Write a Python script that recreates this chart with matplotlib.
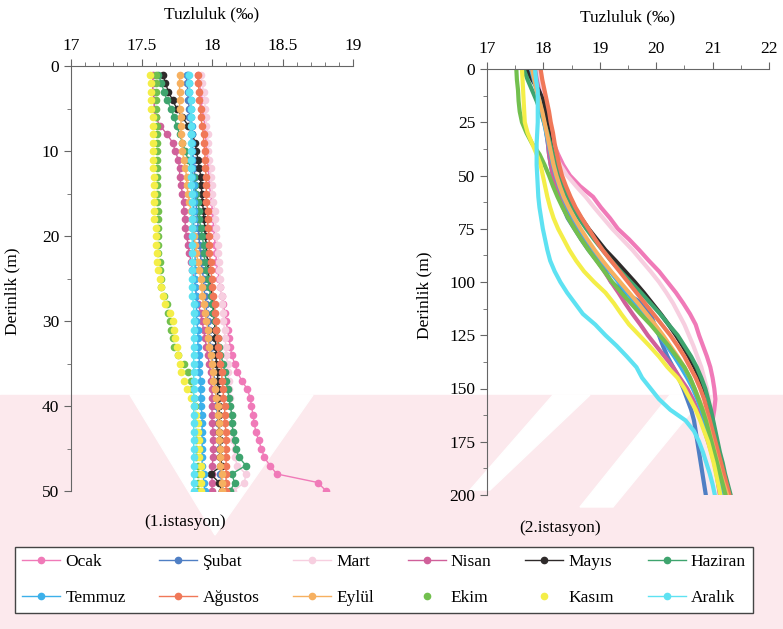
import matplotlib
matplotlib.use('Agg')
import matplotlib.pyplot as plt
from matplotlib.patches import Polygon, Rectangle
from matplotlib.ticker import MultipleLocator, FormatStrFormatter

plt.rcParams['font.family'] = ['Liberation Serif', 'DejaVu Serif']

aylar = ['Ocak', 'Şubat', 'Mart', 'Nisan', 'Mayıs', 'Haziran',
         'Temmuz', 'Ağustos', 'Eylül', 'Ekim', 'Kasım', 'Aralık']
renkler = ['#f07ab8', '#4f7fc4', '#f7cfe0', '#d0609a', '#2e2a2a', '#3ea46e',
           '#3cb0ea', '#f07858', '#f6b060', '#72c04e', '#f4ee48', '#5ee2f2']
# Ekim ve Kasım sadece nokta
cizgili = [True, True, True, True, True, True, True, True, True, False, False, True]

# 1. istasyon, 1-50 m
derinlik1 = list(range(1, 51))
ist1 = {
    'Ocak': [17.90, 17.91, 17.92, 17.92, 17.93, 17.94, 17.95, 17.95, 17.96, 17.96,
             17.97, 17.97, 17.98, 17.98, 17.99, 18.00, 18.00, 18.01, 18.01, 18.02,
             18.02, 18.03, 18.03, 18.04, 18.05, 18.06, 18.07, 18.08, 18.09, 18.10,
             18.11, 18.12, 18.13, 18.14, 18.16, 18.18, 18.21, 18.25, 18.27, 18.28,
             18.29, 18.30, 18.31, 18.33, 18.35, 18.37, 18.41, 18.46, 18.75, 18.81],
    'Şubat': [17.82, 17.82, 17.83, 17.83, 17.84, 17.84, 17.85, 17.85, 17.86, 17.86,
              17.87, 17.87, 17.88, 17.88, 17.88, 17.89, 17.89, 17.90, 17.90, 17.91,
              17.91, 17.92, 17.92, 17.93, 17.94, 17.94, 17.95, 17.96, 17.96, 17.97,
              17.98, 17.98, 17.99, 18.00, 18.00, 18.01, 18.02, 18.02, 18.03, 18.03,
              18.04, 18.04, 18.05, 18.05, 18.05, 18.06, 18.06, 18.06, 18.07, 18.07],
    'Mart': [17.92, 17.93, 17.94, 17.95, 17.95, 17.96, 17.96, 17.97, 17.97, 17.97,
             17.98, 17.99, 17.99, 18.00, 18.00, 18.01, 18.02, 18.02, 18.03, 18.03,
             18.04, 18.04, 18.05, 18.05, 18.06, 18.06, 18.07, 18.07, 18.08, 18.08,
             18.09, 18.09, 18.10, 18.10, 18.11, 18.11, 18.12, 18.12, 18.13, 18.13,
             18.14, 18.14, 18.15, 18.15, 18.16, 18.16, 18.18, 18.24, 18.23, 18.15],
    'Nisan': [17.58, 17.58, 17.58, 17.59, 17.59, 17.60, 17.63, 17.68, 17.72, 17.74,
              17.76, 17.77, 17.77, 17.78, 17.79, 17.80, 17.80, 17.81, 17.81, 17.82,
              17.83, 17.84, 17.85, 17.86, 17.87, 17.88, 17.89, 17.90, 17.92, 17.93,
              17.94, 17.95, 17.96, 17.97, 17.98, 17.99, 17.99, 18.00, 18.00, 18.00,
              18.00, 18.00, 18.01, 18.01, 18.01, 18.01, 18.00, 18.00, 18.00, 18.00],
    'Mayıs': [17.65, 17.67, 17.69, 17.72, 17.75, 17.79, 17.83, 17.86, 17.88, 17.89,
              17.90, 17.91, 17.92, 17.92, 17.93, 17.93, 17.94, 17.94, 17.95, 17.95,
              17.96, 17.96, 17.97, 17.97, 17.98, 17.99, 18.00, 18.01, 18.01, 18.02,
              18.02, 18.02, 18.03, 18.03, 18.03, 18.04, 18.04, 18.04, 18.04, 18.05,
              18.05, 18.05, 18.05, 18.06, 18.06, 18.06, 18.07, 17.99, 18.05, 18.07],
    'Haziran': [17.62, 17.64, 17.66, 17.68, 17.71, 17.73, 17.75, 17.77, 17.79, 17.81,
                17.83, 17.85, 17.87, 17.88, 17.89, 17.90, 17.91, 17.91, 17.92, 17.93,
                17.94, 17.94, 17.95, 17.96, 17.97, 17.98, 17.99, 18.00, 18.01, 18.02,
                18.03, 18.04, 18.05, 18.06, 18.08, 18.09, 18.10, 18.11, 18.12, 18.13,
                18.14, 18.14, 18.15, 18.16, 18.17, 18.19, 18.24, 18.14, 18.16, 18.13],
    'Temmuz': [17.83, 17.84, 17.84, 17.85, 17.85, 17.85, 17.86, 17.86, 17.86, 17.86,
               17.86, 17.86, 17.86, 17.87, 17.87, 17.87, 17.87, 17.87, 17.87, 17.87,
               17.87, 17.88, 17.88, 17.88, 17.88, 17.88, 17.89, 17.89, 17.89, 17.89,
               17.90, 17.90, 17.90, 17.91, 17.91, 17.91, 17.92, 17.92, 17.92, 17.92,
               17.93, 17.93, 17.93, 17.93, 17.93, 17.93, 17.93, 17.94, 17.94, 17.95],
    'Ağustos': [17.90, 17.90, 17.91, 17.91, 17.92, 17.92, 17.93, 17.94, 17.94, 17.95,
                17.95, 17.95, 17.96, 17.96, 17.96, 17.96, 17.97, 17.97, 17.97, 17.98,
                17.98, 17.98, 17.99, 17.99, 18.00, 18.00, 18.01, 18.02, 18.02, 18.03,
                18.03, 18.04, 18.04, 18.05, 18.06, 18.07, 18.07, 18.08, 18.08, 18.09,
                18.09, 18.09, 18.10, 18.10, 18.10, 18.10, 18.10, 18.10, 18.10, 18.10],
    'Eylül': [17.77, 17.77, 17.77, 17.77, 17.77, 17.78, 17.78, 17.78, 17.79, 17.79,
              17.80, 17.81, 17.82, 17.82, 17.83, 17.84, 17.85, 17.86, 17.86, 17.87,
              17.88, 17.89, 17.90, 17.91, 17.92, 17.93, 17.93, 17.94, 17.95, 17.96,
              17.97, 17.97, 17.98, 17.99, 18.00, 18.01, 18.01, 18.02, 18.03, 18.04,
              18.04, 18.05, 18.05, 18.05, 18.06, 18.06, 18.06, 18.07, 18.07, 18.07],
    'Ekim': [17.60, 17.60, 17.60, 17.60, 17.60, 17.60, 17.61, 17.61, 17.61, 17.61,
             17.61, 17.61, 17.61, 17.61, 17.61, 17.61, 17.62, 17.62, 17.62, 17.62,
             17.62, 17.62, 17.63, 17.63, 17.64, 17.64, 17.66, 17.68, 17.69, 17.70,
             17.71, 17.72, 17.73, 17.76, 17.80, 17.83, 17.85, 17.86, 17.87, 17.88,
             17.88, 17.88, 17.89, 17.89, 17.89, 17.89, 17.90, 17.90, 17.90, 17.90],
    'Kasım': [17.56, 17.57, 17.57, 17.57, 17.57, 17.58, 17.58, 17.58, 17.58, 17.58,
              17.58, 17.58, 17.59, 17.59, 17.59, 17.59, 17.59, 17.59, 17.60, 17.60,
              17.60, 17.61, 17.61, 17.62, 17.63, 17.64, 17.65, 17.67, 17.70, 17.72,
              17.73, 17.74, 17.75, 17.76, 17.77, 17.78, 17.80, 17.82, 17.85, 17.87,
              17.89, 17.90, 17.90, 17.91, 17.91, 17.91, 17.92, 17.92, 17.92, 17.92],
    'Aralık': [17.84, 17.84, 17.84, 17.85, 17.85, 17.85, 17.85, 17.85, 17.85, 17.85,
               17.85, 17.85, 17.85, 17.85, 17.86, 17.86, 17.86, 17.86, 17.86, 17.86,
               17.86, 17.86, 17.86, 17.86, 17.86, 17.86, 17.86, 17.87, 17.87, 17.87,
               17.87, 17.87, 17.87, 17.87, 17.87, 17.87, 17.87, 17.87, 17.87, 17.87,
               17.87, 17.87, 17.87, 17.87, 17.87, 17.87, 17.87, 17.87, 17.87, 17.87],
}

# 2. istasyon, 0-200 m (5 m aralık)
derinlik2 = list(range(0, 201, 5))
ist2 = {
    'Ocak': [17.92, 17.95, 17.97, 18.00, 18.03, 18.06, 18.12, 18.18, 18.26, 18.35,
             18.47, 18.65, 18.88, 19.02, 19.18, 19.32, 19.52, 19.70, 19.87, 20.05,
             20.20, 20.35, 20.48, 20.60, 20.70, 20.76, 20.83, 20.90, 20.96, 21.00,
             21.03, 21.05, 21.03, 21.00, 21.02, 21.05, 21.08, 21.12, 21.15, 21.18, 21.22],
    'Şubat': [17.85, 17.88, 17.92, 17.96, 18.00, 18.03, 18.05, 18.08, 18.10, 18.13,
              18.17, 18.22, 18.28, 18.35, 18.43, 18.55, 18.67, 18.80, 18.95, 19.10,
              19.20, 19.45, 19.75, 19.90, 19.97, 20.05, 20.12, 20.20, 20.30, 20.40,
              20.48, 20.55, 20.62, 20.67, 20.70, 20.73, 20.76, 20.79, 20.82, 20.85, 20.88],
    'Mart': [17.90, 17.93, 17.95, 17.98, 18.00, 18.04, 18.08, 18.14, 18.20, 18.30,
             18.42, 18.58, 18.75, 18.90, 19.06, 19.22, 19.40, 19.58, 19.74, 19.90,
             20.05, 20.18, 20.30, 20.40, 20.50, 20.58, 20.66, 20.73, 20.80, 20.85,
             20.90, 20.93, 20.96, 20.99, 21.02, 21.05, 21.08, 21.10, 21.13, 21.16, 21.20],
    'Nisan': [17.85, 17.88, 17.92, 17.96, 18.00, 18.03, 18.06, 18.08, 18.10, 18.13,
              18.17, 18.22, 18.30, 18.38, 18.48, 18.58, 18.70, 18.82, 18.95, 19.08,
              19.20, 19.33, 19.45, 19.58, 19.72, 19.85, 20.00, 20.15, 20.30, 20.42,
              20.55, 20.65, 20.73, 20.80, 20.86, 20.92, 20.98, 21.03, 21.07, 21.10, 21.13],
    'Mayıs': [17.70, 17.80, 17.92, 18.00, 18.04, 18.07, 18.10, 18.13, 18.17, 18.22,
              18.28, 18.36, 18.45, 18.55, 18.67, 18.80, 18.95, 19.10, 19.28, 19.45,
              19.62, 19.78, 19.93, 20.08, 20.22, 20.35, 20.47, 20.58, 20.68, 20.77,
              20.85, 20.90, 20.95, 21.00, 21.03, 21.06, 21.10, 21.14, 21.18, 21.22, 21.25],
    'Haziran': [17.65, 17.72, 17.80, 17.88, 17.95, 18.01, 18.07, 18.12, 18.17, 18.22,
                18.28, 18.35, 18.43, 18.52, 18.63, 18.76, 18.90, 19.05, 19.20, 19.37,
                19.55, 19.73, 19.90, 20.07, 20.22, 20.38, 20.50, 20.62, 20.72, 20.80,
                20.87, 20.92, 20.97, 21.01, 21.05, 21.09, 21.13, 21.18, 21.22, 21.27, 21.32],
    'Temmuz': [17.78, 17.83, 17.88, 17.93, 17.97, 18.01, 18.05, 18.09, 18.13, 18.17,
               18.22, 18.28, 18.35, 18.43, 18.53, 18.64, 18.76, 18.89, 19.03, 19.18,
               19.33, 19.48, 19.63, 19.78, 19.92, 20.06, 20.19, 20.32, 20.44, 20.55,
               20.65, 20.73, 20.80, 20.86, 20.91, 20.96, 21.00, 21.04, 21.08, 21.12, 21.16],
    'Ağustos': [17.95, 17.98, 18.02, 18.06, 18.10, 18.13, 18.17, 18.20, 18.24, 18.28,
                18.33, 18.40, 18.48, 18.57, 18.68, 18.80, 18.92, 19.05, 19.20, 19.35,
                19.50, 19.65, 19.80, 19.95, 20.10, 20.25, 20.38, 20.50, 20.60, 20.70,
                20.78, 20.85, 20.90, 20.95, 21.00, 21.05, 21.10, 21.15, 21.20, 21.25, 21.30],
    'Eylül': [17.80, 17.84, 17.88, 17.93, 17.98, 18.02, 18.06, 18.10, 18.14, 18.18,
              18.23, 18.29, 18.36, 18.45, 18.55, 18.66, 18.78, 18.91, 19.05, 19.20,
              19.36, 19.52, 19.68, 19.83, 19.98, 20.12, 20.25, 20.38, 20.50, 20.60,
              20.68, 20.76, 20.83, 20.89, 20.94, 20.99, 21.04, 21.09, 21.14, 21.20, 21.26],
    'Ekim': [17.52, 17.53, 17.55, 17.56, 17.58, 17.62, 17.70, 17.80, 17.93, 18.02,
             18.10, 18.17, 18.25, 18.34, 18.44, 18.55, 18.67, 18.80, 18.94, 19.08,
             19.22, 19.38, 19.55, 19.72, 19.90, 20.06, 20.22, 20.36, 20.50, 20.60,
             20.68, 20.75, 20.82, 20.88, 20.93, 20.98, 21.03, 21.08, 21.13, 21.18, 21.23],
    'Kasım': [17.62, 17.63, 17.64, 17.65, 17.66, 17.67, 17.72, 17.80, 17.88, 17.95,
              17.99, 18.03, 18.07, 18.12, 18.18, 18.26, 18.36, 18.46, 18.58, 18.72,
              18.90, 19.10, 19.25, 19.38, 19.52, 19.70, 19.88, 20.05, 20.20, 20.38,
              20.50, 20.60, 20.70, 20.78, 20.85, 20.92, 20.97, 21.02, 21.06, 21.10, 21.14],
    'Aralık': [17.85, 17.87, 17.90, 17.90, 17.90, 17.90, 17.89, 17.88, 17.88, 17.88,
               17.89, 17.90, 17.91, 17.93, 17.96, 17.99, 18.03, 18.07, 18.12, 18.20,
               18.30, 18.42, 18.56, 18.70, 18.92, 19.10, 19.30, 19.48, 19.65, 19.75,
               19.90, 20.05, 20.25, 20.52, 20.67, 20.76, 20.83, 20.89, 20.95, 21.00, 21.04],
}

fig = plt.figure(figsize=(7.83, 6.29), dpi=100)

# arka plandaki soluk pembe filigran
pembe = '#fce9ed'
fig.patches.append(Rectangle((0, 0), 1, 1 - 395 / 629, transform=fig.transFigure,
                             color=pembe, zorder=-10))
def beyaz_bant(noktalar):
    pts = [(x / 783, 1 - y / 629) for x, y in noktalar]
    fig.patches.append(Polygon(pts, closed=True, transform=fig.transFigure,
                               color='white', zorder=-9))
beyaz_bant([(130, 395), (313, 395), (215, 535)])
beyaz_bant([(470, 490), (490, 490), (590, 395), (553, 395)])
beyaz_bant([(580, 507), (613, 507), (705, 395), (670, 395)])

ax1 = fig.add_axes([71 / 783, 1 - 491 / 629, 282 / 783, 425 / 629])
ax2 = fig.add_axes([487 / 783, 1 - 495 / 629, 282 / 783, 426 / 629])

for ay, renk, cizgi in zip(aylar, renkler, cizgili):
    ls = '-' if cizgi else 'none'
    ax1.plot(ist1[ay], derinlik1, ls=ls, lw=1, color=renk, marker='o', ms=4.5,
             mec=renk, label=ay)
    ax2.plot(ist2[ay], derinlik2, lw=3, color=renk, solid_capstyle='round')

for ax in (ax1, ax2):
    ax.set_facecolor('none')
    ax.xaxis.tick_top()
    ax.xaxis.set_label_position('top')
    ax.spines['right'].set_visible(False)
    ax.spines['bottom'].set_visible(False)
    ax.spines['left'].set_color('#666666')
    ax.spines['top'].set_color('#666666')
    ax.tick_params(which='both', direction='out', color='#666666', labelsize=12.5)
    ax.tick_params(which='major', length=5)
    ax.tick_params(which='minor', length=3)
    ax.set_ylabel('Derinlik (m)', fontsize=12.5)
    ax.set_xlabel('Tuzluluk (‰)', fontsize=12.5, labelpad=14)
    ax.xaxis.set_major_formatter(FormatStrFormatter('%g'))

ax1.set_xlim(17, 19)
ax1.set_ylim(50, 0)
ax1.xaxis.set_major_locator(MultipleLocator(0.5))
ax1.xaxis.set_minor_locator(MultipleLocator(0.1))
ax1.yaxis.set_major_locator(MultipleLocator(10))
ax1.yaxis.set_minor_locator(MultipleLocator(5))
ax1.yaxis.set_label_coords(-0.18, 0.47)

ax2.set_xlim(17, 22)
ax2.set_ylim(200, 0)
ax2.xaxis.set_major_locator(MultipleLocator(1))
ax2.xaxis.set_minor_locator(MultipleLocator(0.5))
ax2.yaxis.set_major_locator(MultipleLocator(25))
ax2.yaxis.set_minor_locator(MultipleLocator(12.5))
ax2.yaxis.set_label_coords(-0.195, 0.47)

fig.text(185 / 783, 1 - 522 / 629, '(1.istasyon)', ha='center', va='center', fontsize=12.5)
fig.text(560 / 783, 1 - 528 / 629, '(2.istasyon)', ha='center', va='center', fontsize=12.5)

# lejant satır satır dolsun diye sıralama
h, l = ax1.get_legend_handles_labels()
sira = [0, 6, 1, 7, 2, 8, 3, 9, 4, 10, 5, 11]
leg = fig.legend([h[i] for i in sira], [l[i] for i in sira], loc='center', ncol=6,
                 mode='expand', fontsize=12.5,
                 bbox_to_anchor=(15 / 783, 1 - 612 / 629, 738 / 783, 64 / 629),
                 fancybox=False, edgecolor='#444444', framealpha=1,
                 handlelength=2.2, handletextpad=0.3, borderaxespad=0, labelspacing=1.1)
leg.get_frame().set_linewidth(1.0)

fig.savefig('out.png', dpi=100)
